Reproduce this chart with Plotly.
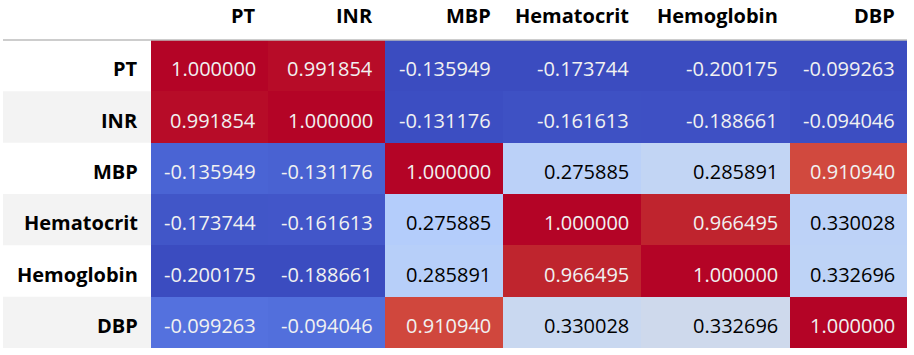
import numpy as np
import plotly.graph_objects as go

# correlation matrix (pandas Styler look, coolwarm gradient per column)
labels = ['PT', 'INR', 'MBP', 'Hematocrit', 'Hemoglobin', 'DBP']
pt = [1.000000, 0.991854, -0.135949, -0.173744, -0.200175, -0.099263]
inr = [0.991854, 1.000000, -0.131176, -0.161613, -0.188661, -0.094046]
mbp = [-0.135949, -0.131176, 1.000000, 0.275885, 0.285891, 0.910940]
hematocrit = [-0.173744, -0.161613, 0.275885, 1.000000, 0.966495, 0.330028]
hemoglobin = [-0.200175, -0.188661, 0.285891, 0.966495, 1.000000, 0.332696]
dbp = [-0.099263, -0.094046, 0.910940, 0.330028, 0.332696, 1.000000]

rows = np.array([pt, inr, mbp, hematocrit, hemoglobin, dbp])
n = len(labels)

# column-wise normalisation, like Styler.background_gradient(axis=0)
cmin = rows.min(axis=0)
cmax = rows.max(axis=0)
z = (rows - cmin) / (cmax - cmin)

# matplotlib coolwarm
cw = [(59, 76, 192), (68, 90, 204), (77, 104, 215), (87, 117, 225), (98, 130, 234),
      (108, 142, 241), (119, 154, 247), (130, 165, 251), (141, 176, 254), (152, 185, 255),
      (163, 194, 255), (174, 201, 253), (184, 208, 249), (194, 213, 244), (204, 217, 238),
      (213, 219, 230), (221, 221, 221), (229, 216, 209), (236, 211, 197), (241, 204, 185),
      (245, 196, 173), (247, 187, 160), (247, 177, 148), (247, 166, 135), (244, 154, 123),
      (241, 141, 111), (236, 127, 99), (229, 112, 88), (222, 96, 77), (213, 80, 66),
      (203, 62, 56), (192, 40, 47), (180, 4, 38)]
coolwarm = [[i / (len(cw) - 1), 'rgb(%d,%d,%d)' % c] for i, c in enumerate(cw)]

# pixel widths of the value columns
col_w = [117, 117, 118, 138, 149, 117]
edges = np.concatenate([[0], np.cumsum(col_w)])
idx_w = 148
plot_w = edges[-1]

FONT = 'Open Sans'
FS = 20

fig = go.Figure(go.Heatmap(
    x=edges, y=list(range(n)), z=z,
    zmin=0, zmax=1, colorscale=coolwarm, showscale=False,
    customdata=rows, hovertemplate='%{customdata:.6f}<extra></extra>'
))

ann = []
for j, name in enumerate(labels):
    # column header
    ann.append(dict(x=edges[j + 1], xref='x', y=1, yref='paper', yanchor='middle',
                    yshift=25, xshift=-10, xanchor='right', showarrow=False,
                    text='<b>%s</b>' % name, font=dict(family=FONT, size=FS, color='#000')))
    # row header
    ann.append(dict(x=0, xref='paper', y=j, yref='y', xanchor='right', xshift=-11,
                    yanchor='middle', yshift=-3, showarrow=False,
                    text='<b>%s</b>' % name, font=dict(family=FONT, size=FS, color='#000')))
for i in range(n):
    for j in range(n):
        v = z[i, j]
        col = '#f1f1f1' if (v < 0.3 or v > 0.72) else '#000000'
        ann.append(dict(x=edges[j + 1], xref='x', y=i, yref='y', xanchor='right',
                        xshift=-10, yanchor='middle', yshift=-3, showarrow=False,
                        text='%.6f' % rows[i, j],
                        font=dict(family=FONT, size=FS, color=col)))

shapes = []
for i in range(1, n, 2):
    shapes.append(dict(type='rect', xref='paper', yref='paper', layer='below',
                       x0=-idx_w / plot_w, x1=0, y0=1 - (i + 1) / n, y1=1 - i / n,
                       fillcolor='#f3f3f3', line=dict(width=0)))
shapes.append(dict(type='line', xref='paper', yref='paper', x0=-idx_w / plot_w, x1=1,
                   y0=1, y1=1, line=dict(color='#bdbdbd', width=1.5)))

fig.update_layout(
    width=914, height=355,
    margin=dict(l=151, r=7, t=40, b=7),
    paper_bgcolor='white', plot_bgcolor='white',
    xaxis=dict(visible=False, range=[0, plot_w], fixedrange=True),
    yaxis=dict(visible=False, range=[n - 0.5, -0.5], fixedrange=True),
    annotations=ann, shapes=shapes,
)

# drop the default 8px page margin so the figure sits at the window's corner
fig.write_html('out.html', config={'displayModeBar': False},
               post_script="document.body.style.margin='0';")
